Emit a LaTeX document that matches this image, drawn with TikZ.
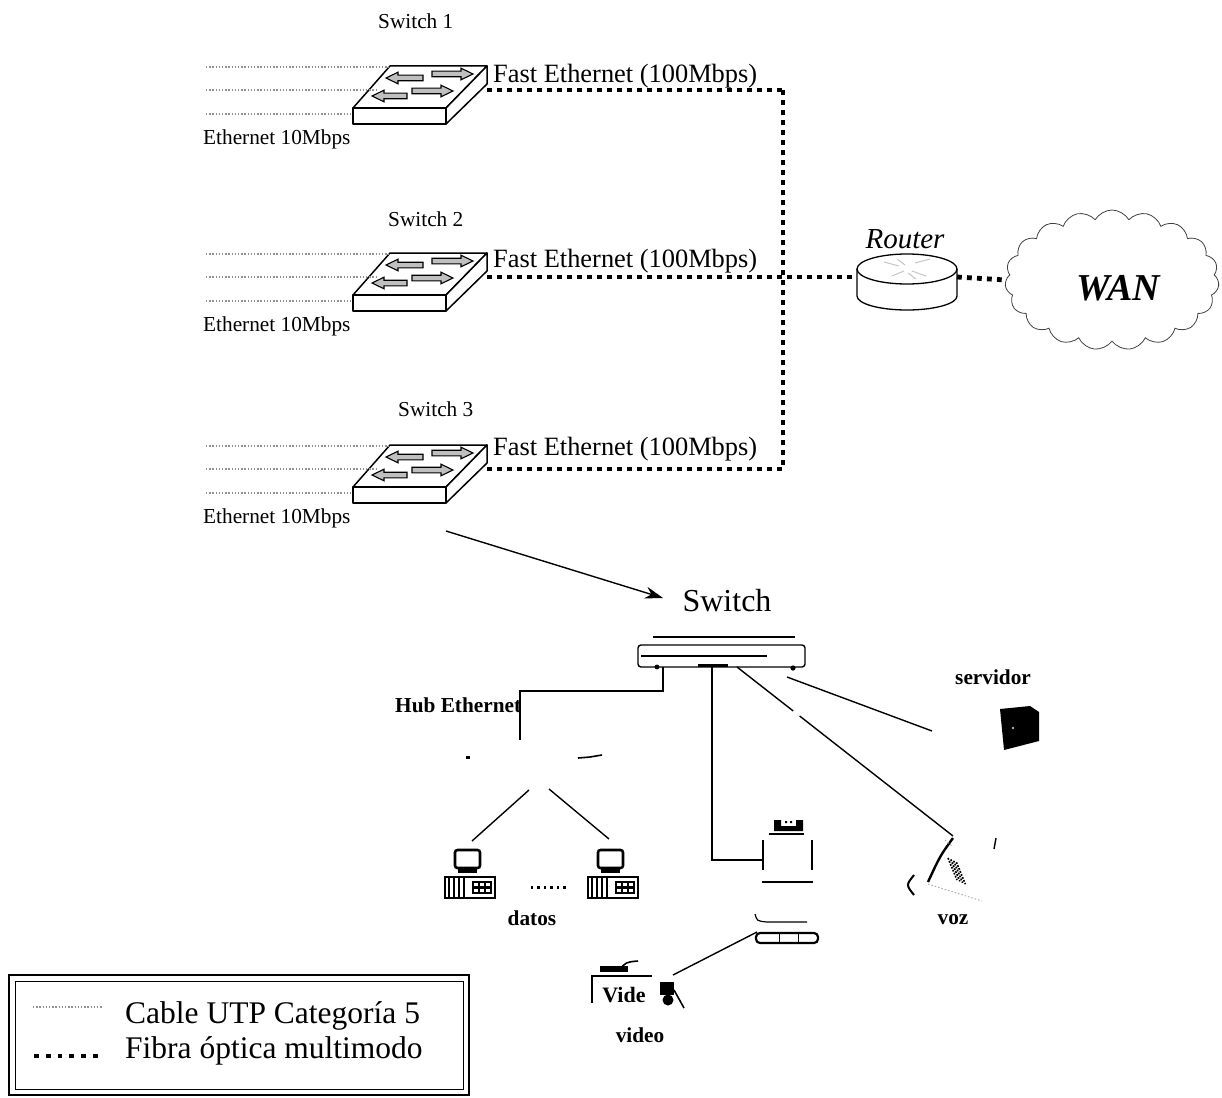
\documentclass[tikz,border=0pt]{standalone}
\usepackage{fontspec}
\setmainfont{Liberation Serif}
\usetikzlibrary{arrows.meta,shapes.symbols,calc}

% block arrow on a switch face: tail x, tip x, y, signed head length
\newcommand\blkarrow[4]{%
  \filldraw[fill=gray!50, draw=black, line width=1.1pt, line join=miter]
    ({#1},{#3-2.8}) -- ({#2-(#4)},{#3-2.8}) -- ({#2-(#4)},{#3-5.8}) -- ({#2},{#3})
    -- ({#2-(#4)},{#3+5.8}) -- ({#2-(#4)},{#3+2.8}) -- ({#1},{#3+2.8}) -- cycle;}

\tikzset{
  utp/.style={draw=gray!45!black!55, line width=1.1pt, dash pattern=on 1.4pt off 1.8pt},
  fiber/.style={draw=black, line width=4.8pt, dash pattern=on 4.8pt off 5.2pt},
  cable/.style={draw=black, line width=1.4pt},
  swlbl/.style={font=\fontsize{21.3}{23}\selectfont, anchor=base west, inner sep=0pt},
  fastlbl/.style={font=\fontsize{26.4}{28}\selectfont, anchor=base west, inner sep=0pt},
  boldlbl/.style={font=\bfseries\fontsize{21.3}{23}\selectfont, inner sep=0pt},
  leglbl/.style={font=\fontsize{31.5}{34}\selectfont, anchor=base west, inner sep=0pt},
  % workgroup switch seen in perspective
  lanswitch/.pic={
    \draw[line width=1.5pt, line join=round, fill=white] (0,0) -- (97,0) -- (56,42) -- (-37,42) -- cycle;
    \draw[line width=1.5pt, line join=round, fill=white] (-37,42) rectangle (56,58);
    \draw[line width=1.5pt, line join=round, fill=white] (97,0) -- (97,18) -- (56,58) -- (56,42) -- cycle;
    \blkarrow{33}{-4}{12}{-12}
    \blkarrow{42}{83}{8}{12}
    \blkarrow{22}{63}{25}{12}
    \blkarrow{17}{-18}{30}{-12}
    \coordinate (-port) at (97,24);
    \coordinate (-in1) at (-1,1);
    \coordinate (-in2) at (-14,24);
    \coordinate (-in3) at (-37,48);
  },
  % desktop computer
  pcset/.pic={
    \draw[line width=2.6pt, rounded corners=2.5pt] (0,0) rectangle (25,18);
    \fill (3,18) rectangle (22,23);
    \draw[line width=1.6pt] (-10,27) rectangle (40,48);
    \foreach \i in {-6,-1,4,9} \draw[line width=2pt] (\i,28) -- (\i,47);
    \fill (17,31) rectangle (37,44);
    \foreach \cx in {19,25,31} \foreach \cy in {33,39} \fill[white] (\cx,\cy) rectangle ({\cx+4},{\cy+3});
  }
}

\begin{document}
\begin{tikzpicture}[x=1pt, y=-1pt, line cap=butt]
\useasboundingbox (0,0) rectangle (1222,1097);

% ---------- three access switches ----------
\pic (sw1) at (390,66) {lanswitch};
\pic (sw2) at (390,253) {lanswitch};
\pic (sw3) at (390,445) {lanswitch};

\foreach \s/\y in {sw1/66, sw2/253, sw3/445}{
  \coordinate (\s-u1) at (206,{\y+1});
  \coordinate (\s-u2) at (206,{\y+24});
  \coordinate (\s-u3) at (206,{\y+48});
  \draw[utp] (\s-u1) -- (\s-in1);
  \draw[utp] (\s-u2) -- (\s-in2);
  \draw[utp] (\s-u3) -- (\s-in3);
}

\node[swlbl] (sw1name) at (378,29) {Switch 1};
\node[swlbl] (sw2name) at (388,226) {Switch 2};
\node[swlbl] (sw3name) at (398,416) {Switch 3};

\node[swlbl] (sw1eth) at (203,144) {Ethernet 10Mbps};
\node[swlbl] (sw2eth) at (203,331) {Ethernet 10Mbps};
\node[swlbl] (sw3eth) at (203,523) {Ethernet 10Mbps};

\node[fastlbl] (sw1fast) at (493,83) {Fast Ethernet (100Mbps)};
\node[fastlbl] (sw2fast) at (493,267) {Fast Ethernet (100Mbps)};
\node[fastlbl] (sw3fast) at (493,455) {Fast Ethernet (100Mbps)};

% ---------- fibre backbone ----------
\coordinate (bus1) at (783,90);
\coordinate (bus3) at (783,469);
\coordinate (rt-w) at (857,277);
\coordinate (rt-e) at (957,277);

\draw[fiber] (sw1-port) -- (bus1);
\draw[fiber] (sw3-port) -- (bus3);
\draw[fiber] (bus1) -- (bus3);
\draw[fiber] (sw2-port) -- (rt-w);

% ---------- router ----------
\filldraw[fill=white, draw=black, line width=1.3pt]
  (857,269) -- (857,296) arc[start angle=180, end angle=0, x radius=50, y radius=14] -- (957,269);
\filldraw[fill=white, draw=black, line width=1.3pt] (907,269) ellipse [x radius=50, y radius=15];
\draw[gray!45, line width=1pt] (884,262) -- (899,266) (915,263) -- (930,259)
  (892,276) -- (904,271) (912,271) -- (926,276) (897,259) -- (905,265) (908,273) -- (916,279);
\node[font=\itshape\fontsize{29}{31}\selectfont, anchor=base, inner sep=0pt] (rtname) at (905,248) {Router};

% ---------- WAN cloud ----------
\node[cloud, draw=black!75, line width=0.8pt, cloud puffs=19, cloud puff arc=120, aspect=1.55,
      minimum width=214pt, minimum height=140pt, inner sep=0pt] (wan) at (1112,280) {};
\node[font=\bfseries\itshape\fontsize{38}{40}\selectfont, anchor=base, inner sep=0pt] (wanname) at (1118,300) {WAN};
\draw[fiber] (rt-e) -- (wan.west);

% ---------- zoom arrow ----------
\coordinate (zfrom) at (446,531);
\coordinate (zto) at (663,598);
\draw[line width=1.4pt, -{Stealth[length=18pt, width=12pt]}] (zfrom) -- (zto);
\node[font=\fontsize{32}{34}\selectfont, anchor=base, inner sep=0pt] (corename) at (727,611) {Switch};

% ---------- core switch ----------
\draw[line width=1.3pt] (653,637) -- (795,637);
\draw[line width=1.4pt, rounded corners=3pt, fill=white] (638,645) rectangle (805,667);
\draw[line width=2.6pt] (641,656) -- (767,656);
\draw[line width=3pt] (698,665) -- (728,665);
\fill (657,667) circle (2.4);
\fill (793,668) circle (2.6);
\coordinate (c-hub) at (663,667);
\coordinate (c-tv) at (712,667);
\coordinate (c-voz) at (737,667);
\coordinate (c-srv) at (787,677);

% ---------- hub and data stations ----------
\node[boldlbl, anchor=base west] (hubname) at (395,712) {Hub Ethernet};
\coordinate (hub-top) at (520,740);
\draw[cable] (c-hub) -- ++(0,24) -| (hub-top);
\fill (466,756) rectangle (470,759);
\draw[line width=1.6pt] (578,758) -- (590,757) -- (602,755);
\coordinate (hub-l) at (529,790);
\coordinate (hub-r) at (549,789);

\pic (pc1) at (455,850) {pcset};
\pic (pc2) at (598,850) {pcset};
\coordinate (pc1-top) at (472,841);
\coordinate (pc2-top) at (609,839);
\draw[cable] (hub-l) -- (pc1-top);
\draw[cable] (hub-r) -- (pc2-top);
\foreach \dx in {532,538.5,545,551.5,558,564.5} \fill ({\dx-1.2},886) rectangle ({\dx+1.2},888.5);
\node[boldlbl, anchor=base] (datosname) at (532,925) {datos};

% ---------- server ----------
\node[boldlbl, anchor=base west] (srvname) at (955,684) {servidor};
\fill (1000,709) -- (1030,706) -- (1039,712) -- (1039,741) -- (1004,750) -- cycle;
\fill[gray!60] (1013,728) circle (1.3);
\coordinate (srv-w) at (932,731);
\draw[cable] (c-srv) -- (srv-w);

% ---------- video equipment ----------
\coordinate (tv-port) at (762,860);
\draw[cable] (c-tv) |- (tv-port);
\fill (774,820) rectangle (781,831) (796,820) rectangle (803,831) (781,826) rectangle (796,831);
\fill (785,821) rectangle (787,823) (790,821) rectangle (792,823);
\draw[line width=1.6pt] (769,834) -- (804,834);
\draw[line width=1.8pt] (763,840) -- (763,870) (812,840) -- (812,870);
\draw[line width=1.8pt] (762,882) -- (813,882);
\draw[line width=1.2pt] (755,914) .. controls (757,921) .. (767,922) -- (807,922);
\draw[line width=2.2pt, rounded corners=4pt] (756,933) rectangle (818,943);
\draw[line width=0.9pt] (779,933) -- (779,943) (798,933) -- (798,943);
\coordinate (vcr-w) at (757,932);

\draw[line width=1.8pt] (592,1003) -- (592,976) -- (652,976);
\fill (600,966) rectangle (628,972);
\draw[line width=1.6pt] (618,971) .. controls (626,962) .. (638,961);
\node[font=\bfseries\fontsize{22}{22}\selectfont, inner sep=0pt, anchor=base] (camtxt) at (624,1002) {Vide};
\fill (660,982) rectangle (674,995);
\fill (668,1000) circle (5.5);
\draw[line width=1.6pt] (674,990) -- (684,1008);
\coordinate (cam-e) at (673,975);
\draw[cable] (vcr-w) -- (cam-e);
\node[boldlbl, anchor=base] (videoname) at (640,1042) {video};

% ---------- telephone ----------
\coordinate (voz-top) at (953,836);
\draw[cable] (c-voz) -- ($(c-voz)!0.26!(voz-top)$);
\draw[cable] ($(c-voz)!0.29!(voz-top)$) -- (voz-top);
\draw[line width=2.4pt] (953,838) .. controls (940,856) .. (928,882);
\draw[line width=2pt] (914,875) .. controls (906,885) .. (914,895);
\foreach \r in {0,1,2,3}
  \draw[line width=1.6pt, dash pattern=on 1.8pt off 1.4pt] ({948+2.8*\r},{858+1.4*\r}) -- ({957+2.8*\r},{880+1.4*\r});
\draw[gray!70, line width=0.9pt, dash pattern=on 1.5pt off 2pt] (928,884) -- (982,901);
\draw[gray!70, line width=0.9pt, dash pattern=on 1.5pt off 2pt] (945,840) -- (952,846);
\draw[line width=1.4pt] (996,838) -- (994,849);
\node[boldlbl, anchor=base] (vozname) at (953,924) {voz};

% ---------- legend ----------
\draw[line width=2.2pt] (9,975) rectangle (469,1095);
\draw[line width=1pt] (15,981) rectangle (463,1089);
\coordinate (lg-u1) at (33,1007);
\coordinate (lg-u2) at (103,1007);
\coordinate (lg-f1) at (34,1056);
\coordinate (lg-f2) at (104,1056);
\draw[utp] (lg-u1) -- (lg-u2);
\draw[fiber, dash pattern=on 4.8pt off 7pt] (lg-f1) -- (lg-f2);
\node[leglbl] (lgutp) at (125,1023) {Cable UTP Categoría 5};
\node[leglbl] (lgfib) at (125,1058) {Fibra óptica multimodo};
\end{tikzpicture}
\end{document}
